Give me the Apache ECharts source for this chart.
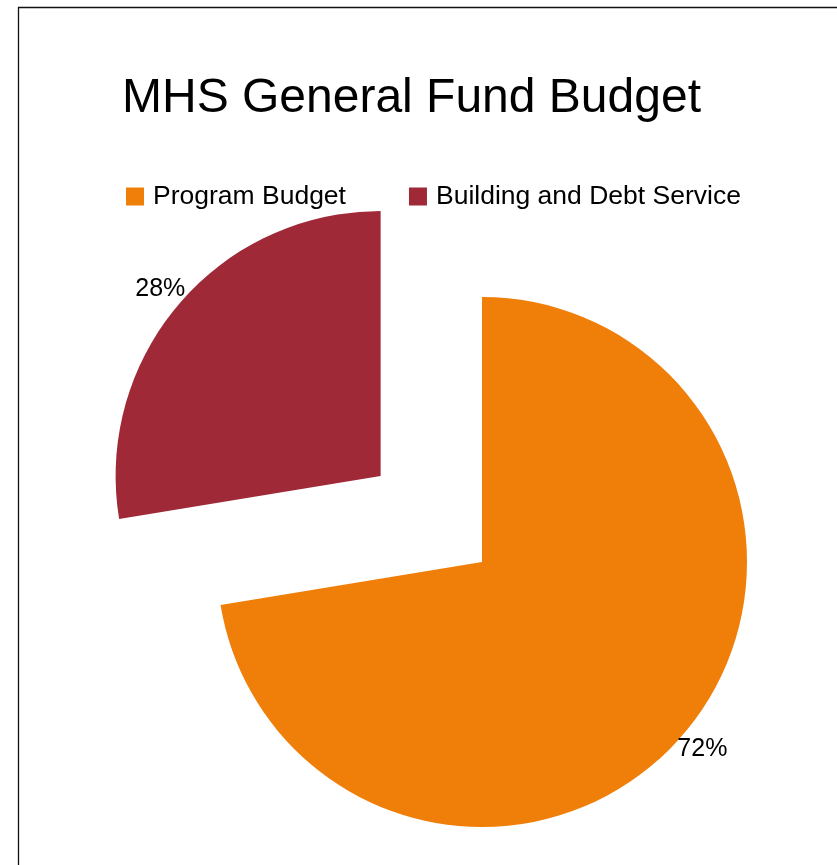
<!DOCTYPE html>
<html>
<head>
<meta charset="utf-8">
<script src="https://cdn.jsdelivr.net/npm/echarts@6/dist/echarts.min.js"></script>
<style>
html,body{margin:0;padding:0;background:#fff;}
#chart{width:837px;height:865px;}
</style>
</head>
<body>
<div id="chart"></div>
<script>
var titleText = 'MHS General Fund Budget';
var categories = ['Program Budget', 'Building and Debt Service'];
var values = [72.4, 27.6];
var colors = ['#F07F09', '#9F2936'];
var explodedIndex = 1;

var fontFamily = '"Liberation Sans", Arial, sans-serif';

var pieData = categories.map(function (name, i) {
  return { name: name, value: values[i], selected: i === explodedIndex, itemStyle: { color: colors[i] } };
});

var chart = echarts.init(document.getElementById('chart'), null, { renderer: 'canvas' });
chart.setOption({
  backgroundColor: '#ffffff',
  animation: false,
  color: colors,
  title: {
    text: titleText,
    left: 122,
    top: 75,
    padding: 0,
    textStyle: { fontFamily: fontFamily, fontSize: 48, fontWeight: 'normal', color: '#000' }
  },
  legend: {
    data: categories,
    left: 126,
    top: 183,
    padding: 0,
    itemWidth: 18,
    itemHeight: 18,
    itemGap: 63,
    icon: 'rect',
    selectedMode: false,
    textStyle: { fontFamily: fontFamily, fontSize: 26.5, color: '#000', padding: [0, 0, 0, 4] }
  },
  graphic: [{
    type: 'rect',
    shape: { x: 18.5, y: 7.5, width: 1000, height: 1000 },
    style: { fill: 'none', stroke: '#111', lineWidth: 1.3 },
    silent: true
  }],
  series: [{
    type: 'pie',
    center: [482, 562],
    radius: [0, 265],
    startAngle: 90,
    clockwise: true,
    selectedMode: 'single',
    selectedOffset: 133,
    silent: true,
    label: { show: false },
    labelLine: { show: false },
    emphasis: { disabled: true },
    data: pieData
  }, {
    type: 'pie',
    center: [482, 562],
    radius: [280, 292],
    startAngle: 90,
    clockwise: true,
    selectedMode: 'single',
    selectedOffset: 133,
    silent: true,
    itemStyle: { color: 'rgba(0,0,0,0)' },
    label: {
      show: true,
      position: 'inside',
      formatter: function (p) { return Math.round(p.percent) + '%'; },
      fontFamily: fontFamily,
      fontSize: 25,
      color: '#000'
    },
    labelLine: { show: false },
    emphasis: { disabled: true },
    data: categories.map(function (name, i) {
      return { name: name, value: values[i], selected: i === explodedIndex, itemStyle: { color: 'rgba(0,0,0,0)' } };
    })
  }]
});
</script>
</body>
</html>
